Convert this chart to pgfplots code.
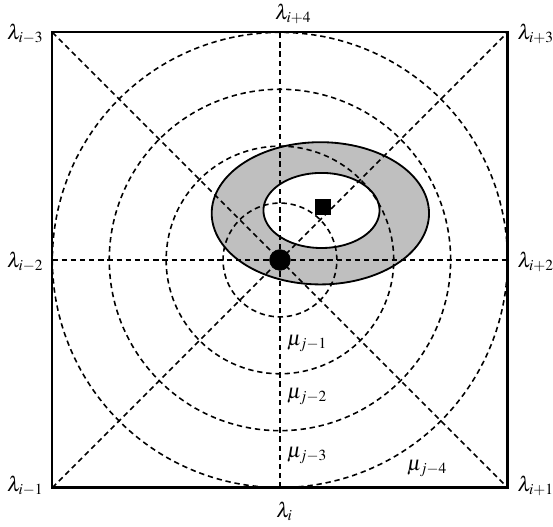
\documentclass[border=0pt]{standalone}
\usepackage{pgfplots}
\pgfplotsset{compat=1.18}
\usepackage{mathptmx}
\tikzset{lab/.style={inner sep=0pt, font=\fontsize{12.5}{15}\selectfont},
  mydash/.style={line width=0.95pt, dash pattern=on 3.2pt off 2.3pt}}
\begin{document}
\begin{tikzpicture}
\begin{axis}[
  at={(0pt,0pt)}, anchor=south west,
  x=34.14pt, y=34.14pt,
  xmin=-4.92, xmax=4.80, ymin=-4.69, ymax=4.57,
  hide axis, clip=false,
]
% annulus
\addplot[draw=none, fill=gray!50, domain=0:360, samples=120, smooth] ({0.71+1.91*cos(x)},{0.82+1.25*sin(x)}) -- cycle;
\addplot[draw=none, fill=white, domain=0:360, samples=120, smooth] ({0.73+1.02*cos(x)},{0.87+0.66*sin(x)}) -- cycle;
% dashed circles
\foreach \r in {1,2,3,4}{
  \addplot[mydash, domain=0:360, samples=160, smooth] ({\r*cos(x)},{\r*sin(x)});
}
% dashed lines
\addplot[mydash] coordinates {(-4,-4) (4,4)};
\addplot[mydash] coordinates {(-4,4) (4,-4)};
\addplot[mydash] coordinates {(0,-4) (0,4)};
\addplot[mydash] coordinates {(-4,0) (4,0)};
% ellipse outlines
\addplot[black, line width=1.1pt, domain=0:360, samples=120, smooth] ({0.71+1.91*cos(x)},{0.82+1.25*sin(x)}) -- cycle;
\addplot[black, line width=1.1pt, domain=0:360, samples=120, smooth] ({0.73+1.02*cos(x)},{0.87+0.66*sin(x)}) -- cycle;
% frame
\addplot[black, line width=1.3pt] coordinates {(-4,-4) (4,-4) (4,4) (-4,4)} -- cycle;
% markers
\addplot[only marks, mark=*, mark size=6.2pt, black] coordinates {(0,0)};
\addplot[only marks, mark=square*, mark size=4.5pt, black] coordinates {(0.75,0.94)};
% labels
\node[lab, anchor=west] at (axis cs:-0.07,-4.42) {$\lambda_i$};
\node[lab, anchor=west] at (axis cs:-0.09,4.32) {$\lambda_{i+4}$};
\node[lab, anchor=east] at (axis cs:-4.15,-0.04) {$\lambda_{i-2}$};
\node[lab, anchor=west] at (axis cs:4.17,-0.04) {$\lambda_{i+2}$};
\node[lab, anchor=east] at (axis cs:-4.15,3.98) {$\lambda_{i-3}$};
\node[lab, anchor=west] at (axis cs:4.17,3.98) {$\lambda_{i+3}$};
\node[lab, anchor=east] at (axis cs:-4.15,-3.97) {$\lambda_{i-1}$};
\node[lab, anchor=west] at (axis cs:4.17,-3.97) {$\lambda_{i+1}$};
\node[lab, anchor=west] at (axis cs:0.12,-1.46) {$\mu_{j-1}$};
\node[lab, anchor=west] at (axis cs:0.12,-2.40) {$\mu_{j-2}$};
\node[lab, anchor=west] at (axis cs:0.12,-3.43) {$\mu_{j-3}$};
\node[lab, anchor=west] at (axis cs:2.23,-3.66) {$\mu_{j-4}$};
\end{axis}
\pgfresetboundingbox
\useasboundingbox (0pt,0pt) rectangle (331.8pt,316.1pt);
\end{tikzpicture}
\end{document}
